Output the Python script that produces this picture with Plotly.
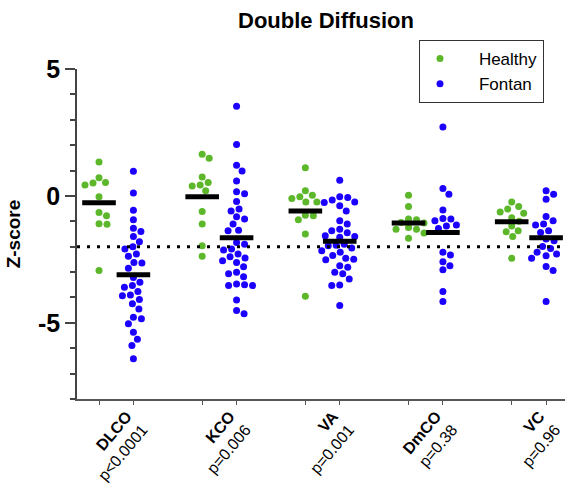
import plotly.graph_objects as go

categories = ["DLCO", "KCO", "VA", "DmCO", "VC"]
p_values = ["p&lt;0.0001", "p=0.006", "p=0.001", "p=0.38", "p=0.96"]

healthy = {
    "DLCO": [1.34, 0.72, 0.51, 0.43, 0.53, -0.03, -0.65, -0.78, -1.10, -1.12, -2.94],
    "KCO": [1.64, 1.48, 0.75, 0.39, 0.43, 0.53, 0.20, -0.61, -1.11, -1.96, -2.38],
    "VA": [1.11, 0.20, -0.03, -0.10, 0.03, -0.24, -0.24, -0.76, -0.78, -0.94, -1.50, -3.95],
    "DmCO": [0.03, -0.42, -0.91, -0.94, -1.07, -1.05, -1.24, -1.31, -1.31, -1.46, -1.67],
    "VC": [-0.24, -0.42, -0.52, -0.63, -0.68, -0.86, -1.00, -1.18, -1.37, -1.41, -1.60, -2.46],
}
fontan = {
    "DLCO": [0.97, 0.12, -0.56, -0.94, -1.27, -1.40, -1.60, -1.81, -2.00, -2.09, -2.29,
             -2.38, -2.64, -2.62, -2.85, -3.21, -3.40, -3.53, -3.60, -3.77, -3.90, -3.93,
             -4.08, -4.25, -4.45, -4.78, -4.84, -5.04, -5.37, -5.65, -5.89, -6.41],
    "KCO": [3.53, 2.03, 1.21, 0.98, 0.59, 0.16, 0.09, -0.22, -0.52, -0.59, -0.82, -0.91,
            -1.11, -1.35, -1.37, -1.83, -1.90, -2.09, -2.13, -2.29, -2.40, -2.45, -2.55,
            -2.62, -2.79, -3.01, -3.07, -3.18, -3.47, -3.50, -3.53, -3.53, -4.10, -4.51, -4.64],
    "VA": [0.62, -0.03, -0.06, -0.16, -0.26, -0.24, -0.39, -0.59, -0.98, -1.11, -1.37,
           -1.31, -1.45, -1.57, -1.60, -1.63, -1.90, -1.94, -1.96, -2.05, -2.16, -2.22,
           -2.35, -2.49, -2.46, -2.51, -2.75, -2.81, -3.01, -3.07, -3.27, -3.51, -3.53, -4.32],
    "DmCO": [2.72, 0.29, 0.07, -0.55, -0.98, -0.91, -0.89, -1.18, -1.15, -1.28, -2.22,
             -2.33, -2.59, -2.75, -2.91, -3.77, -4.16],
    "VC": [0.07, 0.20, -0.13, -0.81, -0.98, -1.15, -1.11, -1.44, -1.37, -1.70, -1.77,
           -2.07, -1.99, -2.29, -2.36, -2.22, -2.46, -2.78, -2.94, -4.16],
}
healthy_mean = [-0.27, -0.03, -0.59, -1.07, -1.02]
fontan_mean = [-3.11, -1.65, -1.79, -1.44, -1.65]
threshold = -2

GREEN = "#5cb82a"
BLUE = "#1c00ff"
FONT = "Arial, Liberation Sans, sans-serif"
NB = "\u00a0"

W, H = 565, 493
ML, MR, MT, MB = 77, 0, 69, 94
XR = [-0.64, 13.55]
YR = [-8, 5]
x_ppu = (W - ML - MR) / (XR[1] - XR[0])
y_ppu = (H - MT - MB) / (YR[1] - YR[0])


def swarm(vals, center, min_dist=8.0, step=0.5):
    order = sorted(range(len(vals)), key=lambda i: -vals[i])
    placed = []
    xs = [0.0] * len(vals)
    for i in order:
        y = vals[i] * y_ppu
        k = 0
        while True:
            cands = [0.0] if k == 0 else [k * step, -k * step]
            done = False
            for c in cands:
                if all((c - px) ** 2 + (y - py) ** 2 >= min_dist ** 2 for px, py in placed):
                    placed.append((c, y))
                    xs[i] = center + c / x_ppu
                    done = True
                    break
            if done:
                break
            k += 1
    return xs


fig = go.Figure()
hx_all, hy_all, fx_all, fy_all = [], [], [], []
for gi, cat in enumerate(categories):
    hc = gi * 3
    fc = gi * 3 + 1
    hx_all += swarm(healthy[cat], hc)
    hy_all += healthy[cat]
    fx_all += swarm(fontan[cat], fc)
    fy_all += fontan[cat]

fig.add_trace(go.Scatter(x=hx_all, y=hy_all, mode="markers", name=NB * 4 + "Healthy",
                         marker=dict(color=GREEN, size=7), cliponaxis=False))
fig.add_trace(go.Scatter(x=fx_all, y=fy_all, mode="markers", name=NB * 4 + "Fontan",
                         marker=dict(color=BLUE, size=7), cliponaxis=False))
fig.add_trace(go.Scatter(
    x=[gi * 3 for gi in range(len(categories))] + [gi * 3 + 1 for gi in range(len(categories))],
    y=healthy_mean + fontan_mean, mode="markers", showlegend=False, hoverinfo="skip",
    marker=dict(symbol="line-ew", size=24, color="black", line=dict(color="black", width=5))))

fig.add_shape(type="line", xref="paper", x0=0, x1=1, yref="y", y0=threshold, y1=threshold,
              line=dict(color="black", width=3, dash="3px,7px"))

col_ticks = []
for gi in range(len(categories)):
    col_ticks += [gi * 3, gi * 3 + 1]

fig.update_layout(
    width=W, height=H,
    margin=dict(l=ML, r=MR, t=MT, b=MB, autoexpand=False),
    paper_bgcolor="white", plot_bgcolor="white",
    font=dict(family=FONT, color="black"),
    title=dict(text="<b>Double Diffusion</b>", x=(326 - ML) / (W - ML - MR), xref="paper",
               xanchor="center", y=1 - 20 / H, yanchor="middle",
               font=dict(size=22, family=FONT, color="black")),
    showlegend=True,
    legend=dict(x=(419 - ML) / (W - ML - MR), y=1 + (MT - 40) / (H - MT - MB),
                xanchor="left", yanchor="top", bordercolor="#333", borderwidth=1,
                font=dict(size=17, family=FONT, color="black"), bgcolor="white",
                itemwidth=30, tracegroupgap=0),
    xaxis=dict(range=XR, showgrid=False, zeroline=False, showline=True,
               linecolor="#555", linewidth=1.5, automargin=False,
               tickmode="array",
               tickvals=[gi * 3 + 0.8 for gi in range(len(categories))],
               ticktext=[f"<b>{c}</b><br>{p}" for c, p in zip(categories, p_values)],
               ticks="", tickangle=-50, ticklabeloverflow="allow",
               tickfont=dict(size=16, family=FONT, color="black"),
               minor=dict(tickmode="array", tickvals=col_ticks, ticks="outside",
                          ticklen=4, tickcolor="#555", tickwidth=1)),
    yaxis=dict(range=YR, showgrid=False, zeroline=False, showline=True,
               linecolor="#444", linewidth=1.5, automargin=False,
               tickmode="array", tickvals=[-5, 0, 5], ticktext=["-5", "0", "5"],
               ticks="outside", ticklen=10, tickcolor="#444", tickwidth=1.5,
               tickfont=dict(size=25, family=FONT, color="black", weight="bold"),
               minor=dict(dtick=1, tick0=0, ticks="outside", ticklen=5,
                          tickcolor="#444", tickwidth=1.5),
               title=dict(text="<b>Z-score</b>", font=dict(size=19, family=FONT, color="black"),
                          standoff=12)),
)

fig.write_html("out.html", config={"displayModeBar": False},
               post_script="document.body.style.margin='0px';document.body.style.overflow='hidden';")
